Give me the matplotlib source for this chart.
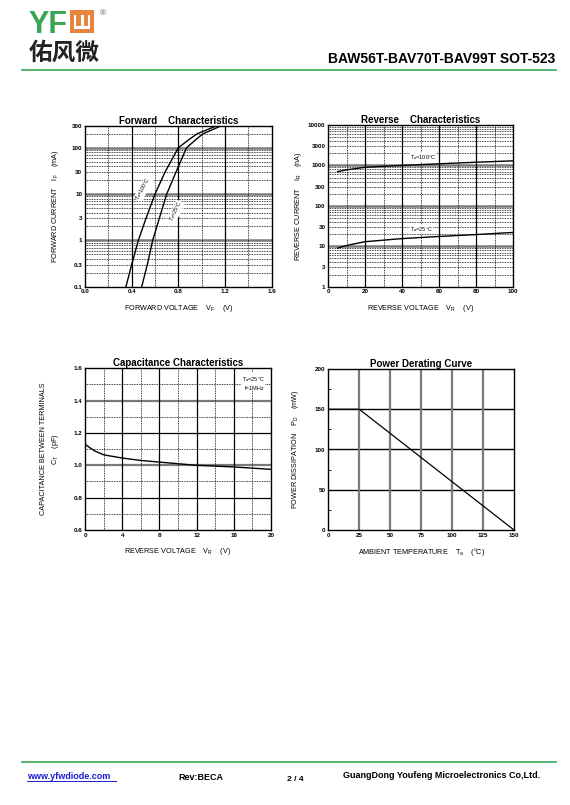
import matplotlib
matplotlib.use("Agg")
import matplotlib.pyplot as plt
from matplotlib.patches import Rectangle
import numpy as np

plt.rcParams['font.family'] = ['Liberation Sans', 'Noto Sans CJK SC', 'DejaVu Sans']
plt.rcParams['mathtext.fontset'] = 'custom'
plt.rcParams['mathtext.rm'] = 'Liberation Sans'
plt.rcParams['mathtext.it'] = 'Liberation Sans'
plt.rcParams['mathtext.bf'] = 'Liberation Sans:bold'

# forward characteristics (V, mA)
fwd_i = [0.1, 0.3, 1, 3, 10, 30, 100, 150, 200, 300]
fwd_v100 = [0.351, 0.40, 0.457, 0.523, 0.60, 0.686, 0.80, 0.89, 0.96, 1.13]
fwd_v25 = [0.486, 0.534, 0.58, 0.637, 0.70, 0.78, 0.87, 0.95, 1.01, 1.17]

# reverse characteristics (V, nA)
rev_v = [5, 10, 20, 40, 60, 80, 100]
rev_i100 = [700, 780, 900, 1000, 1100, 1200, 1300]
rev_i25 = [9, 10.5, 13, 15.5, 17.5, 19.5, 22]

# capacitance (V, pF)
cap_v = [0, 0.5, 1, 2, 4, 6, 8, 10, 12, 16, 20]
cap_c = [1.13, 1.11, 1.09, 1.065, 1.045, 1.03, 1.02, 1.01, 1.0, 0.99, 0.975]

# power derating (degC, mW)
pd_t = [0, 25, 150]
pd_p = [150, 150, 0]

green = '#3aa655'
orange = '#e8853d'

fig = plt.figure(figsize=(5.7, 8.05), dpi=100)


def fx(px):
    return px / 570


def fy(py):
    return 1 - py / 805


# ---- page header ----
fig.text(fx(28), fy(33), 'YF', color=green, fontsize=22, fontweight='bold', va='baseline')
fig.patches.append(Rectangle((fx(70), fy(33)), fx(24), 23 / 805, transform=fig.transFigure,
                             facecolor=orange, edgecolor='none'))
for x0 in [74, 81, 88]:
    fig.patches.append(Rectangle((fx(x0), fy(29)), fx(2.5), 14 / 805, transform=fig.transFigure,
                                 facecolor='white', edgecolor='none'))
fig.patches.append(Rectangle((fx(74), fy(29)), fx(16.5), 3 / 805, transform=fig.transFigure,
                             facecolor='white', edgecolor='none'))
fig.text(fx(100), fy(15), '®', fontsize=6, color='#555555', va='baseline')
fig.text(fx(29), fy(60), '佑风微', fontsize=17, fontweight='bold',
         family=['Noto Sans CJK SC', 'DejaVu Sans'], va='baseline', color='#222222')
fig.text(fx(555), fy(63), 'BAW56T-BAV70T-BAV99T SOT-523', fontsize=10, fontweight='bold',
         ha='right', va='baseline')
fig.add_artist(plt.Line2D([fx(22), fx(556)], [fy(70), fy(70)], color=green, lw=1.2,
                          transform=fig.transFigure))

# ---- page footer ----
fig.add_artist(plt.Line2D([fx(22), fx(556)], [fy(762), fy(762)], color=green, lw=1.2,
                          transform=fig.transFigure))
fig.text(fx(27), fy(779), 'www.yfwdiode.com', fontsize=6.5, fontweight='bold', color='#1a1ad0',
         va='baseline')
fig.add_artist(plt.Line2D([fx(27), fx(116)], [fy(781), fy(781)], color='#1a1ad0', lw=0.7,
                          transform=fig.transFigure))
fig.text(fx(178), fy(780), 'Rev:BECA', fontsize=6.5, fontweight='bold', va='baseline')
fig.text(fx(287), fy(781), '2 / 4', fontsize=6, fontweight='bold', va='baseline')
fig.text(fx(343), fy(778), 'GuangDong Youfeng Microelectronics Co,Ltd.', fontsize=6.5,
         fontweight='bold', va='baseline')

tick_fs = 4.5
lab_fs = 5.2
note_bg = dict(facecolor='white', edgecolor='none', pad=0.1)


def style_axes(ax):
    for s in ax.spines.values():
        s.set_linewidth(1.0)
    ax.tick_params(which='both', direction='in', length=0, labelsize=tick_fs, pad=2)
    for lab in ax.get_xticklabels() + ax.get_yticklabels():
        lab.set_fontweight('bold')


def log_grid(ax, lo, hi, majors):
    d = lo
    while d < hi:
        for k in range(2, 10):
            if d * k < hi:
                ax.axhline(d * k, color='black', lw=0.6, ls=(0, (1, 1)), zorder=1)
        d *= 10
    for m in majors:
        ax.axhline(m, color='#7a7a7a', lw=1.8, zorder=1)


# ---- forward ----
ax1 = fig.add_axes([fx(85), fy(286.7), fx(186.7), 161 / 805])
ax1.set_yscale('log')
ax1.set_xlim(0, 1.6)
ax1.set_ylim(0.1, 300)
log_grid(ax1, 0.1, 300, [1, 10, 100])
for x in [0.4, 0.8, 1.2]:
    ax1.axvline(x, color='black', lw=0.9, zorder=1)
for x in [0.2, 0.6, 1.0, 1.4]:
    ax1.axvline(x, color='black', lw=0.6, ls=(0, (1, 1)), zorder=1)
ax1.plot(fwd_v100, fwd_i, color='black', lw=1.0, zorder=3)
ax1.plot(fwd_v25, fwd_i, color='black', lw=1.0, zorder=3)
ax1.set_xticks([0.0, 0.4, 0.8, 1.2, 1.6])
ax1.set_xticklabels(['0.0', '0.4', '0.8', '1.2', '1.6'])
ax1.set_yticks([0.1, 0.3, 1, 3, 10, 30, 100, 300])
ax1.set_yticklabels(['0.1', '0.3', '1', '3', '10', '30', '100', '300'])
ax1.minorticks_off()
ax1.text(0.50, 13, 'T$_a$=100°C', rotation=62, fontsize=3.8, ha='center', va='center',
         zorder=4, bbox=note_bg)
ax1.text(0.78, 4.2, 'T$_a$=25°C', rotation=64, fontsize=3.8, ha='center', va='center',
         zorder=4, bbox=note_bg)
ax1.set_title('Forward    Characteristics', fontsize=7, fontweight='bold', pad=1.5)
ax1.set_xlabel('FORWARD VOLTAGE    V$_F$    (V)', fontsize=lab_fs, labelpad=6)
ax1.set_ylabel('FORWARD CURRENT    I$_F$    (mA)', fontsize=lab_fs, labelpad=8)
style_axes(ax1)

# ---- reverse ----
ax2 = fig.add_axes([fx(328.3), fy(286.7), fx(185), 161.7 / 805])
ax2.set_yscale('log')
ax2.set_xlim(0, 100)
ax2.set_ylim(1, 10000)
log_grid(ax2, 1, 10000, [10, 100, 1000])
for x in [20, 40, 60, 80]:
    ax2.axvline(x, color='black', lw=0.9, zorder=1)
for x in [10, 30, 50, 70, 90]:
    ax2.axvline(x, color='black', lw=0.6, ls=(0, (1, 1)), zorder=1)
ax2.plot(rev_v, rev_i100, color='black', lw=1.0, zorder=3)
ax2.plot(rev_v, rev_i25, color='black', lw=1.0, zorder=3)
ax2.set_xticks([0, 20, 40, 60, 80, 100])
ax2.set_yticks([1, 3, 10, 30, 100, 300, 1000, 3000, 10000])
ax2.set_yticklabels(['1', '3', '10', '30', '100', '300', '1000', '3000', '10000'])
ax2.minorticks_off()
ax2.text(44, 1250, 'T$_a$=100°C', fontsize=4, ha='left', va='bottom', zorder=4, bbox=note_bg)
ax2.text(44, 20, 'T$_a$=25°C', fontsize=4, ha='left', va='bottom', zorder=4, bbox=note_bg)
ax2.set_title('Reverse    Characteristics', fontsize=7, fontweight='bold', pad=1.5)
ax2.set_xlabel('REVERSE VOLTAGE    V$_R$    (V)', fontsize=lab_fs, labelpad=6)
ax2.set_ylabel('REVERSE CURRENT    I$_R$    (nA)', fontsize=lab_fs, labelpad=3)
style_axes(ax2)

# ---- capacitance ----
ax3 = fig.add_axes([fx(85), fy(530), fx(186), 161.7 / 805])
ax3.set_xlim(0, 20)
ax3.set_ylim(0.6, 1.6)
for y in [0.8, 1.2]:
    ax3.axhline(y, color='black', lw=0.9, zorder=1)
for y in [1.0, 1.4]:
    ax3.axhline(y, color='#7a7a7a', lw=1.6, zorder=1)
for y in [0.7, 0.9, 1.1, 1.3, 1.5]:
    ax3.axhline(y, color='black', lw=0.6, ls=(0, (1, 1)), zorder=1)
for x in [4, 8, 12, 16]:
    ax3.axvline(x, color='black', lw=0.9, zorder=1)
for x in [2, 6, 10, 14, 18]:
    ax3.axvline(x, color='black', lw=0.6, ls=(0, (1, 1)), zorder=1)
ax3.plot(cap_v, cap_c, color='black', lw=1.0, zorder=3)
ax3.set_xticks([0, 4, 8, 12, 16, 20])
ax3.set_yticks([0.6, 0.8, 1.0, 1.2, 1.4, 1.6])
ax3.set_yticklabels(['0.6', '0.8', '1.0', '1.2', '1.4', '1.6'])
ax3.text(19.3, 1.56, 'T$_a$=25°C\nf=1MHz', fontsize=4, ha='right', va='top', zorder=4,
         linespacing=1.6, bbox=dict(facecolor='white', edgecolor='none', pad=0.3))
ax3.set_title('Capacitance Characteristics', fontsize=7, fontweight='bold', pad=1.5)
ax3.set_xlabel('REVERSE VOLTAGE    V$_R$    (V)', fontsize=lab_fs, labelpad=6)
ax3.set_ylabel('CAPACITANCE BETWEEN TERMINALS\nC$_T$    (pF)', fontsize=lab_fs,
               labelpad=9, linespacing=1.4)
style_axes(ax3)

# ---- power derating ----
ax4 = fig.add_axes([fx(328.3), fy(530), fx(185.7), 161 / 805])
ax4.set_xlim(0, 150)
ax4.set_ylim(0, 200)
for y in [50, 100, 150]:
    ax4.axhline(y, color='black', lw=1.0, zorder=1)
for x in [25, 50, 75, 100, 125]:
    ax4.axvline(x, color='#7a7a7a', lw=1.6, zorder=1)
ax4.plot(pd_t, pd_p, color='black', lw=0.9, zorder=3)
ax4.set_xticks([0, 25, 50, 75, 100, 125, 150])
ax4.set_yticks([0, 50, 100, 150, 200])
ax4.set_yticks([25, 75, 125, 175], minor=True)
ax4.set_title('Power Derating Curve', fontsize=7, fontweight='bold', pad=1.5)
ax4.set_xlabel('AMBIENT TEMPERATURE    T$_a$    (°C)', fontsize=lab_fs, labelpad=6)
ax4.set_ylabel('POWER DISSIPATION    P$_D$    (mW)', fontsize=lab_fs, labelpad=10)
style_axes(ax4)
ax4.tick_params(which='minor', length=2, direction='in', width=0.6)

fig.savefig('out.png', dpi=100)
